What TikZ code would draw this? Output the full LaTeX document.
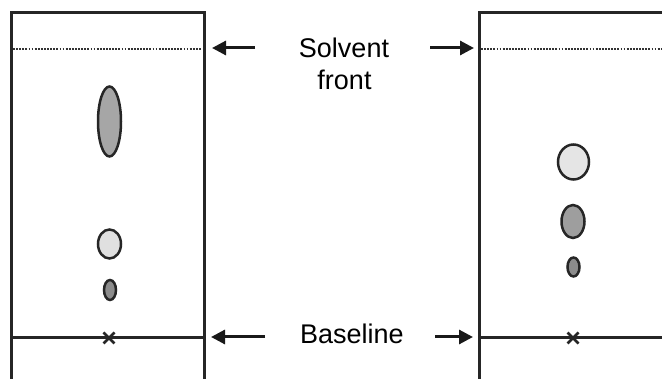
\documentclass[tikz,border=0pt]{standalone}
\usepackage{fontspec}
\setmainfont{Liberation Sans}
\usetikzlibrary{arrows.meta,shapes.geometric,calc}
\begin{document}
\begin{tikzpicture}[x=1pt,y=-1pt,
  plate/.style={line width=3pt, draw=black!85},
  front/.style={line width=2.6pt, dash pattern=on 1.8pt off 1.3pt, draw=black!80},
  spot/.style={ellipse, draw=black!85, line width=2.5pt, inner sep=0pt},
  cross/.style={line width=2.5pt, draw=black!85},
  ptr/.style={line width=3pt, draw=black!90, -{Triangle[length=14pt,width=14pt]}},
  lbl/.style={font=\fontsize{27}{32}\selectfont, text=black, inner sep=0pt, anchor=base}]
\useasboundingbox (0,0) rectangle (662,379);
% plates
\draw[plate] (11,380) -- (11,13) -- (204,13) -- (204,380);
\draw[plate] (479,380) -- (479,13) -- (663,13);
% solvent fronts
\draw[front] (13,49) -- (202,49);
\draw[front] (481,49) -- (662,49);
% baselines
\draw[plate] (11,338) -- (204,338);
\draw[plate] (479,338) -- (663,338);
% crosses
\coordinate (xl) at (109,338);
\coordinate (xr) at (573,338);
\draw[cross] ($(xl)+(-5.5,-5.5)$) -- ($(xl)+(5.5,5.5)$) ($(xl)+(-5.5,5.5)$) -- ($(xl)+(5.5,-5.5)$);
\draw[cross] ($(xr)+(-5.5,-5.5)$) -- ($(xr)+(5.5,5.5)$) ($(xr)+(-5.5,5.5)$) -- ($(xr)+(5.5,-5.5)$);
% left spots
\node[spot, fill=black!35, minimum width=23pt, minimum height=70pt] (l1) at (109.5,121.5) {};
\node[spot, fill=black!12, minimum width=23pt, minimum height=29pt] (l2) at (109.5,244) {};
\node[spot, fill=black!45, minimum width=12pt, minimum height=20pt] (l3) at (110,290) {};
% right spots
\node[spot, fill=black!10, minimum width=31pt, minimum height=35pt] (r1) at (573.5,162) {};
\node[spot, fill=black!38, minimum width=23pt, minimum height=33pt] (r2) at (573,221.5) {};
\node[spot, fill=black!45, minimum width=12pt, minimum height=19pt] (r3) at (573.5,267) {};
% labels
\node[lbl] (sol) at (344,57.3) {Solvent};
\node[lbl] (fro) at (344.5,90) {front};
\node[lbl] (base) at (352,343.3) {Baseline};
% arrows
\coordinate (sft) at (255,48);
\coordinate (sfl) at (212,48);
\coordinate (srt) at (430,48);
\coordinate (srr) at (474,48);
\coordinate (blt) at (265,337);
\coordinate (bll) at (211,337);
\coordinate (brt) at (435,337);
\coordinate (brr) at (473,337);
\draw[ptr] (sft) -- (sfl);
\draw[ptr] (srt) -- (srr);
\draw[ptr] (blt) -- (bll);
\draw[ptr] (brt) -- (brr);
\end{tikzpicture}
\end{document}
